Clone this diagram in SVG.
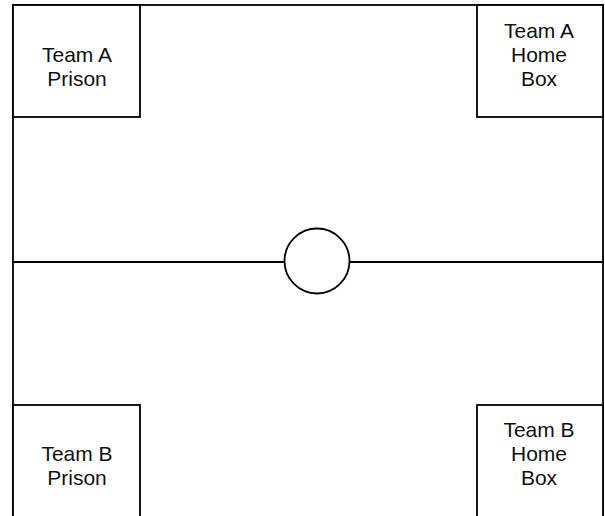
<svg xmlns="http://www.w3.org/2000/svg" width="605" height="516" viewBox="0 0 605 516">
<style>
.ln{fill:none;stroke:#000;stroke-width:1.8}
.bx{fill:#fff;stroke:#000;stroke-width:1.8}
text{font-family:"Liberation Sans",Arial,sans-serif;font-size:21px;fill:#111;text-anchor:middle}
</style>
<rect width="605" height="516" fill="#fff"/>
<g id="field">
<rect class="ln" x="13" y="5" width="590" height="530"/>
</g>
<g id="connectors">
<line class="ln" x1="13" y1="262" x2="285" y2="262"/>
<line class="ln" x1="349" y1="262" x2="603" y2="262"/>
</g>
<g id="center-circle">
<circle class="bx" cx="317" cy="261" r="32.5"/>
</g>
<g id="team-a-prison">
<rect class="bx" x="13" y="5" width="127" height="112"/>
<text x="77" y="61.5">Team A</text>
<text x="77" y="85.5">Prison</text>
</g>
<g id="team-a-home">
<rect class="bx" x="477" y="5" width="126" height="112"/>
<text x="539" y="37.5">Team A</text>
<text x="539" y="61.5">Home</text>
<text x="539" y="85.5">Box</text>
</g>
<g id="team-b-prison">
<rect class="bx" x="13" y="405" width="127" height="130"/>
<text x="77" y="461">Team B</text>
<text x="77" y="485">Prison</text>
</g>
<g id="team-b-home">
<rect class="bx" x="477" y="405" width="126" height="130"/>
<text x="539" y="437">Team B</text>
<text x="539" y="461">Home</text>
<text x="539" y="485">Box</text>
</g>
</svg>
